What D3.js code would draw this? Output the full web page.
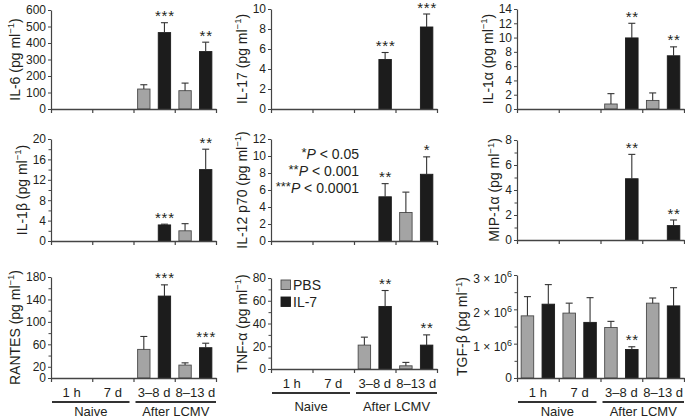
<!DOCTYPE html>
<html><head><meta charset="utf-8">
<script src="https://cdn.jsdelivr.net/npm/d3@7"></script>
<style>body{margin:0;background:#fff} svg{display:block}</style>
</head><body><svg id="c" width="685" height="419"></svg>
<script>
// ---------- DATA ----------
const categories = ["1 h", "7 d", "3–8 d", "8–13 d"];
const conditionGroups = ["Naive", "After LCMV"];
const series = ["PBS", "IL-7"];
const pLegend = [["*", "0.05"], ["**", "0.001"], ["***", "0.0001"]];

const il6PBS = [null, null, 121, 111];
const il6PBSErr = [null, null, 147, 157];
const il6IL7 = [null, null, 463, 348];
const il6IL7Err = [null, null, 523, 405];
const il6Sig = ["", "", "***", "**"];
const il6Ticks = [0, 100, 200, 300, 400, 500, 600];

const il17PBS = [null, null, null, null];
const il17PBSErr = [null, null, null, null];
const il17IL7 = [null, null, 4.95, 8.2];
const il17IL7Err = [null, null, 5.65, 9.5];
const il17Sig = ["", "", "***", "***"];
const il17Ticks = [0, 2, 4, 6, 8, 10];

const il1aPBS = [null, null, 0.7, 1.2];
const il1aPBSErr = [null, null, 2.15, 2.25];
const il1aIL7 = [null, null, 9.95, 7.45];
const il1aIL7Err = [null, null, 12.0, 8.7];
const il1aSig = ["", "", "**", "**"];
const il1aTicks = [0, 2, 4, 6, 8, 10, 12, 14];

const il1bPBS = [null, null, null, 2.0];
const il1bPBSErr = [null, null, null, 3.4];
const il1bIL7 = [null, null, 3.15, 14.0];
const il1bIL7Err = [null, null, 3.3, 18.0];
const il1bSig = ["", "", "***", "**"];
const il1bTicks = [0, 4, 8, 12, 16, 20];
const il1bMinor = [2, 6, 10, 14, 18];

const il12PBS = [null, null, null, 3.35];
const il12PBSErr = [null, null, null, 5.75];
const il12IL7 = [null, null, 5.2, 7.85];
const il12IL7Err = [null, null, 6.75, 9.9];
const il12Sig = ["", "", "**", "*"];
const il12Ticks = [0, 2, 4, 6, 8, 10, 12];

const mipPBS = [null, null, null, null];
const mipPBSErr = [null, null, null, null];
const mipIL7 = [null, null, 4.9, 1.15];
const mipIL7Err = [null, null, 6.85, 1.6];
const mipSig = ["", "", "**", "**"];
const mipTicks = [0, 2, 4, 6, 8];
const mipMinor = [1, 3, 5, 7];

const rantesPBS = [null, null, 51, 23];
const rantesPBSErr = [null, null, 74, 27];
const rantesIL7 = [null, null, 146, 54];
const rantesIL7Err = [null, null, 166, 62];
const rantesSig = ["", "", "***", "***"];
const rantesTicks = [0, 20, 60, 100, 140, 180];
const rantesMinor = [40, 80, 120, 160];

const tnfPBS = [null, null, 21, 2.8];
const tnfPBSErr = [null, null, 28, 5.8];
const tnfIL7 = [null, null, 55, 21];
const tnfIL7Err = [null, null, 69, 30];
const tnfSig = ["", "", "**", "**"];
const tnfTicks = [0, 20, 40, 60, 80];
const tnfMinor = [10, 30, 50, 70];

const tgfPBS = [1.81e6, 1.89e6, 1.47e6, 2.18e6];
const tgfPBSErr = [2.37e6, 2.18e6, 1.65e6, 2.33e6];
const tgfIL7 = [2.15e6, 1.62e6, 0.83e6, 2.1e6];
const tgfIL7Err = [2.72e6, 2.34e6, 0.91e6, 2.63e6];
const tgfSig = ["", "", "**", ""];
const tgfTicks = [0, 1e6, 2e6, 3e6];
const tgfMinor = [0.5e6, 1.5e6, 2.5e6];

// ---------- LAYOUT ----------
const FONT = "'Liberation Sans', Arial, Helvetica, sans-serif";
const INK = "#231f20";
const GRAY = "#a4a4a4";
const BLACK = "#1c1c1c";

const panels = [
  {name: "IL-6", pbs: il6PBS, pbsErr: il6PBSErr, il7: il6IL7, il7Err: il6IL7Err, sig: il6Sig, ticks: il6Ticks, minor: [], r: {x0: 51, x1: 216, y0: 10, y1: 109}},
  {name: "IL-17", pbs: il17PBS, pbsErr: il17PBSErr, il7: il17IL7, il7Err: il17IL7Err, sig: il17Sig, ticks: il17Ticks, minor: [], r: {x0: 271, x1: 437, y0: 9, y1: 109}},
  {name: "IL-1α", pbs: il1aPBS, pbsErr: il1aPBSErr, il7: il1aIL7, il7Err: il1aIL7Err, sig: il1aSig, ticks: il1aTicks, minor: [], r: {x0: 517, x1: 684, y0: 9, y1: 109}},
  {name: "IL-1β", pbs: il1bPBS, pbsErr: il1bPBSErr, il7: il1bIL7, il7Err: il1bIL7Err, sig: il1bSig, ticks: il1bTicks, minor: il1bMinor, r: {x0: 51, x1: 216, y0: 139, y1: 241}},
  {name: "IL-12 p70", pbs: il12PBS, pbsErr: il12PBSErr, il7: il12IL7, il7Err: il12IL7Err, sig: il12Sig, ticks: il12Ticks, minor: [], r: {x0: 271, x1: 437, y0: 139, y1: 241}, pLegend: true},
  {name: "MIP-1α", pbs: mipPBS, pbsErr: mipPBSErr, il7: mipIL7, il7Err: mipIL7Err, sig: mipSig, ticks: mipTicks, minor: mipMinor, r: {x0: 517, x1: 684, y0: 140, y1: 240}},
  {name: "RANTES", pbs: rantesPBS, pbsErr: rantesPBSErr, il7: rantesIL7, il7Err: rantesIL7Err, sig: rantesSig, ticks: rantesTicks, minor: rantesMinor, r: {x0: 51, x1: 216, y0: 277, y1: 378}, cats: true, grpDy: 38},
  {name: "TNF-α", pbs: tnfPBS, pbsErr: tnfPBSErr, il7: tnfIL7, il7Err: tnfIL7Err, sig: tnfSig, ticks: tnfTicks, minor: tnfMinor, r: {x0: 271, x1: 437, y0: 278, y1: 369}, cats: true, grpDy: 42, legend: true},
  {name: "TGF-β", pbs: tgfPBS, pbsErr: tgfPBSErr, il7: tgfIL7, il7Err: tgfIL7Err, sig: tgfSig, ticks: tgfTicks, minor: tgfMinor, r: {x0: 517, x1: 684, y0: 275, y1: 378}, cats: true, grpDy: 38, sci: true}
];

const svg = d3.select("#c").attr("font-family", FONT);

panels.forEach(p => {
  const r = p.r;
  const g = svg.append("g");
  const y = d3.scaleLinear().domain([0, d3.max(p.ticks)]).range([r.y1, r.y0]);
  const xg = d3.scaleBand().domain(categories).range([r.x0, r.x1]).padding(0);
  const xs = d3.scaleBand().domain(series).range([0, xg.bandwidth()]).paddingInner(0.4).paddingOuter(0.2);
  const xi = d3.scaleLinear().domain([0, categories.length]).range([r.x0, r.x1]);

  // bars
  const rows = [];
  categories.forEach((c, i) => {
    rows.push({c, s: "PBS", v: p.pbs[i], e: p.pbsErr[i], sig: ""});
    rows.push({c, s: "IL-7", v: p.il7[i], e: p.il7Err[i], sig: p.sig[i]});
  });
  const valid = rows.filter(d => d.v != null);
  g.selectAll("rect.bar").data(valid).join("rect")
    .attr("x", d => xg(d.c) + xs(d.s))
    .attr("y", d => y(d.v))
    .attr("width", xs.bandwidth())
    .attr("height", d => y(0) - y(d.v))
    .attr("fill", d => d.s === "PBS" ? GRAY : BLACK)
    .attr("stroke", d => d.s === "PBS" ? "#4a4a4a" : BLACK)
    .attr("stroke-width", 0.9);
  // error bars
  const eb = valid.filter(d => d.e != null);
  const cx = d => xg(d.c) + xs(d.s) + xs.bandwidth() / 2;
  g.selectAll("line.err").data(eb).join("line")
    .attr("x1", cx).attr("x2", cx)
    .attr("y1", d => y(d.v)).attr("y2", d => y(d.e))
    .attr("stroke", "#333").attr("stroke-width", 1.1);
  g.selectAll("line.cap").data(eb).join("line")
    .attr("x1", d => cx(d) - 3.5).attr("x2", d => cx(d) + 3.5)
    .attr("y1", d => y(d.e)).attr("y2", d => y(d.e))
    .attr("stroke", "#333").attr("stroke-width", 1.1);
  // significance
  g.selectAll("text.sig").data(valid.filter(d => d.sig)).join("text")
    .attr("x", d => cx(d) + 0.5)
    .attr("y", d => y(d.e != null ? d.e : d.v) - 1.5)
    .attr("text-anchor", "middle")
    .attr("font-size", 15).attr("letter-spacing", 0.8)
    .attr("fill", INK).text(d => d.sig);

  // y axis
  const ya = d3.axisLeft(y).tickValues(p.ticks).tickSize(3).tickSizeOuter(0).tickPadding(2)
    .tickFormat(d => p.sci ? (d === 0 ? "0" : String(d / 1e6)) : String(d));
  const yAx = g.append("g").attr("transform", `translate(${r.x0},0)`).call(ya);
  yAx.select(".domain").attr("stroke", "#444").attr("stroke-width", 1.2);
  yAx.selectAll(".tick line").attr("stroke", "#444");
  yAx.selectAll(".tick text").attr("font-size", 12).attr("fill", INK).attr("font-family", FONT);
  if (p.sci) {
    yAx.selectAll(".tick text").each(function(d) {
      if (d === 0) return;
      const t = d3.select(this).text(null);
      t.append("tspan").text(`${d / 1e6} × 10`);
      t.append("tspan").attr("dy", -5.5).attr("font-size", 9).text("6");
      t.attr("dy", "0.6em");
    });
  }
  if (p.minor.length) {
    const ym = d3.axisLeft(y).tickValues(p.minor).tickSize(2.5).tickSizeOuter(0).tickFormat("");
    const mAx = g.append("g").attr("transform", `translate(${r.x0},0)`).call(ym);
    mAx.select(".domain").remove();
    mAx.selectAll(".tick line").attr("stroke", "#444");
  }
  // x axis
  const xa = d3.axisBottom(xi).tickValues(d3.range(categories.length + 1)).tickSize(4).tickSizeOuter(0).tickFormat("");
  const xAx = g.append("g").attr("transform", `translate(0,${r.y1})`).call(xa);
  xAx.select(".domain").attr("stroke", "#444").attr("stroke-width", 1.4);
  xAx.selectAll(".tick line").attr("stroke", "#444").attr("stroke-width", 1.2);

  // y label
  let minLeft = r.x0;
  yAx.selectAll(".tick text").each(function() {
    const b = this.getBBox();
    minLeft = Math.min(minLeft, r.x0 + b.x);
  });
  const lx = minLeft - 6;
  const lab = g.append("text")
    .attr("transform", `translate(${lx},${(r.y0 + r.y1) / 2}) rotate(-90)`)
    .attr("text-anchor", "middle").attr("font-size", 14).attr("fill", INK);
  lab.append("tspan").text(`${p.name} (pg ml`);
  lab.append("tspan").attr("dy", -5.5).attr("font-size", 9.5).text("−1");
  lab.append("tspan").attr("dy", 5.5).text(")");

  // categories
  if (p.cats) {
    g.selectAll("text.cat").data(categories).join("text")
      .attr("x", d => xg(d) + xg.bandwidth() / 2)
      .attr("y", r.y1 + 19)
      .attr("text-anchor", "middle").attr("font-size", 13).attr("fill", INK)
      .text(d => d);
    const spans = [
      {label: conditionGroups[0], a: xi(0) + 1, b: xi(2) - 4},
      {label: conditionGroups[1], a: xi(2) + 2, b: xi(4)}
    ];
    g.selectAll("line.br").data(spans).join("line")
      .attr("x1", d => d.a).attr("x2", d => d.b)
      .attr("y1", r.y1 + 24).attr("y2", r.y1 + 24)
      .attr("stroke", "#333").attr("stroke-width", 1.8);
    g.selectAll("text.grp").data(spans).join("text")
      .attr("x", d => (d.a + d.b) / 2).attr("y", r.y1 + p.grpDy)
      .attr("text-anchor", "middle").attr("font-size", 13).attr("fill", INK)
      .text(d => d.label);
  }

  // series legend
  if (p.legend) {
    series.forEach((s, i) => {
      g.append("rect").attr("x", r.x0 + 10).attr("y", r.y0 + 2 + i * 17)
        .attr("width", 9.5).attr("height", 9.5)
        .attr("fill", i === 0 ? GRAY : BLACK).attr("stroke", i === 0 ? "#4a4a4a" : BLACK).attr("stroke-width", 0.9);
      g.append("text").attr("x", r.x0 + 22).attr("y", r.y0 + 12 + i * 17)
        .attr("font-size", 14).attr("fill", INK).text(s);
    });
  }
  // p-value legend
  if (p.pLegend) {
    pLegend.forEach((pl, i) => {
      const t = g.append("text").attr("x", r.x0 + 88).attr("y", r.y0 + 20 + i * 17)
        .attr("text-anchor", "end").attr("font-size", 14).attr("fill", INK);
      t.append("tspan").attr("font-size", 13).attr("dy", -2).text(pl[0]);
      t.append("tspan").attr("dy", 2).attr("font-style", "italic").text("P");
      t.append("tspan").text(` < ${pl[1]}`);
    });
  }
});
</script></body></html>
